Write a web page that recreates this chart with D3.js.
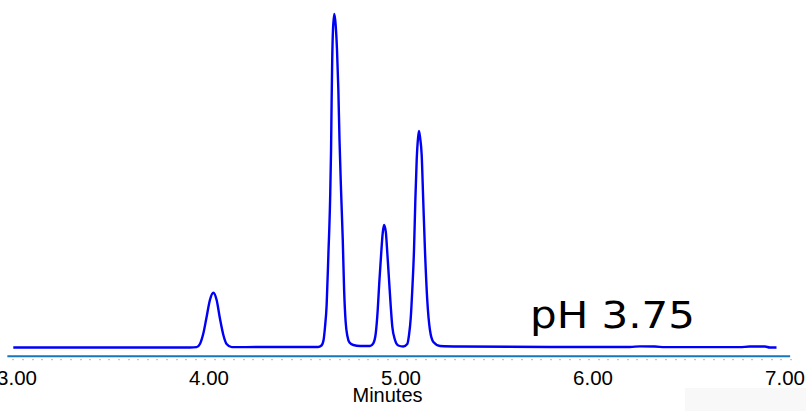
<!DOCTYPE html>
<html>
<head>
<meta charset="utf-8">
<script src="https://cdn.jsdelivr.net/npm/d3@7"></script>
<style>
  html, body { margin: 0; padding: 0; background: #fff; }
  svg { display: block; }
</style>
</head>
<body>
<svg id="chart" width="807" height="411"></svg>
<script>
// retention time (min) and detector signal (relative units)
const times = [
    3.00, 3.45, 3.92, 3.955, 3.972, 3.990, 4.007, 4.024, 4.042, 4.059, 4.076, 4.094, 4.111, 4.138,
    4.285, 4.493, 4.587, 4.605, 4.616, 4.623, 4.632, 4.641, 4.650, 4.655, 4.658, 4.661, 4.665,
    4.672, 4.679, 4.686, 4.693, 4.699, 4.707, 4.716, 4.723, 4.731, 4.740, 4.751, 4.771, 4.806,
    4.858, 4.875, 4.888, 4.898, 4.906, 4.915, 4.924, 4.931, 4.940, 4.948, 4.957, 4.966, 4.974,
    4.988, 5.005, 5.031, 5.052, 5.061, 5.070, 5.078, 5.087, 5.094, 5.101, 5.108, 5.113, 5.119,
    5.127, 5.135, 5.144, 5.156, 5.170, 5.188, 5.223, 5.327, 5.796, 6.212, 6.264, 6.342, 6.394,
    6.784, 6.836, 6.915, 6.940, 6.975
];
const signal = [
    0, 0, 0, 0.1, 1.05, 4.26, 9.24, 14.24, 16.43, 14.24, 8.76, 3.75, 1.05, 0.1,
    0.15, 0.15, 0.15, 0.6, 2.25, 5.85, 12.74, 27.74, 44.23, 59.22, 74.21, 86.21, 95.2,
    100, 96.7, 89.2, 77.2, 62.2, 47.2, 32.2, 17.2, 7.65, 3.45, 1.5, 0.75, 0.45,
    0.45, 1.26, 4.35, 11.24, 19.34, 27.23, 34.33, 36.73, 34.72, 28.34, 20.24, 12.23, 6.24,
    2.25, 0.6, 0.3, 1.05, 3.75, 8.85, 17.24, 29.24, 44.23, 56.22, 62.82, 64.92, 62.82,
    57.72, 44.23, 29.24, 14.24, 5.25, 1.65, 0.45, 0.3, 0.15, 0.15, 0.35, 0.3, 0.1,
    0.1, 0.3, 0.3, 0, 0
];
const majorTicks = [3, 4, 5, 6, 7];
const tickLabels = ['3.00', '4.00', '5.00', '6.00', '7.00'];
const xTitle = 'Minutes';
const annotation = 'pH 3.75';

const svg = d3.select('#chart');

const x = d3.scaleLinear().domain([3, 7]).range([13.3, 781.3]);
const y = d3.scaleLinear().domain([0, 100]).range([347.5, 14]);

// faint panel in the bottom-right corner
svg.append('rect')
    .attr('x', 685).attr('y', 388).attr('width', 121).attr('height', 23)
    .attr('fill', '#f8f8f8');

// axis line
svg.append('line')
    .attr('x1', x(2.969)).attr('x2', x(7.046))
    .attr('y1', 356.3).attr('y2', 356.3)
    .attr('stroke', '#1676bd')
    .attr('stroke-width', 2);

// dotted minor ticks every 0.05 min
const minor = d3.range(0, 82).map((i) => 3 + i * 0.05);
svg.append('g')
    .selectAll('rect')
    .data(minor)
    .join('rect')
    .attr('x', (d) => Math.round(x(d)) - 0.5)
    .attr('y', 359)
    .attr('width', 1)
    .attr('height', 1.2)
    .attr('fill', '#8a8a8a');

// tick labels
svg.append('g')
    .selectAll('text')
    .data(majorTicks)
    .join('text')
    .attr('x', (d) => x(d) + 3.7)
    .attr('y', 385)
    .attr('text-anchor', 'middle')
    .attr('font-family', 'Liberation Sans, Arial, sans-serif')
    .attr('font-size', 20.5)
    .attr('fill', '#000')
    .text((d, i) => tickLabels[i]);

svg.append('text')
    .attr('x', 387.5)
    .attr('y', 402)
    .attr('text-anchor', 'middle')
    .attr('font-family', 'Liberation Sans, Arial, sans-serif')
    .attr('font-size', 20)
    .attr('fill', '#000')
    .text(xTitle);

// chromatogram trace
const pts = times.map((t, i) => [t, signal[i]]);
const line = d3.line()
    .x((d) => x(d[0]))
    .y((d) => y(d[1]))
    .curve(d3.curveMonotoneX);

svg.append('path')
    .datum(pts)
    .attr('d', line)
    .attr('fill', 'none')
    .attr('stroke', '#0000f5')
    .attr('stroke-width', 2.4)
    .attr('stroke-linejoin', 'round');

svg.append('text')
    .attr('x', 530)
    .attr('y', 328.3)
    .attr('font-family', 'DejaVu Sans, Verdana, sans-serif')
    .attr('font-size', 37)
    .attr('textLength', 165)
    .attr('lengthAdjust', 'spacingAndGlyphs')
    .attr('fill', '#000')
    .text(annotation);
</script>
</body>
</html>
